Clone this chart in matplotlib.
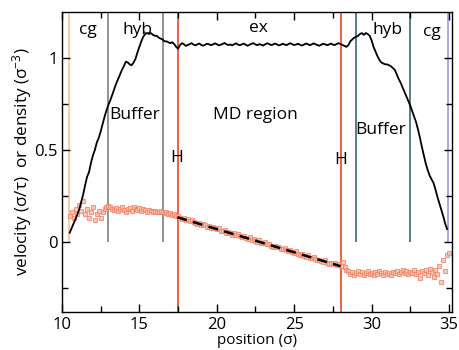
import numpy as np
import matplotlib
matplotlib.use("Agg")
import matplotlib.pyplot as plt

plt.rcParams['font.family'] = ['Open Sans', 'DejaVu Sans']
plt.rcParams['mathtext.fontset'] = 'custom'
plt.rcParams['mathtext.rm'] = 'Open Sans'
plt.rcParams['mathtext.it'] = 'Open Sans'

# density profile (sigma^-3), sampled every 0.125 sigma starting at 10.5
density_start = 10.5
density_step = 0.125
density = [
    0.05, 0.075, 0.10, 0.125, 0.15, 0.18, 0.22, 0.26, 0.31, 0.355, 0.38, 0.43,
    0.47, 0.50, 0.54, 0.565, 0.60, 0.64, 0.68, 0.715, 0.745, 0.77, 0.80, 0.83,
    0.86, 0.885, 0.91, 0.935, 0.955, 0.98, 0.975, 0.965, 0.96, 0.975, 0.995, 1.03,
    1.06, 1.09, 1.115, 1.13, 1.135, 1.13, 1.135, 1.125, 1.12, 1.12, 1.11, 1.105,
    1.10, 1.09, 1.09, 1.085, 1.08, 1.085, 1.075, 1.06, 1.05, 1.07, 1.08, 1.075, 1.065,
    1.07, 1.075, 1.08, 1.072, 1.068, 1.074, 1.078, 1.07, 1.066, 1.072, 1.077, 1.074,
    1.069, 1.073, 1.079, 1.075, 1.068, 1.071, 1.076, 1.081, 1.074, 1.07, 1.073, 1.068,
    1.075, 1.079, 1.072, 1.069, 1.074, 1.078, 1.071, 1.066, 1.072, 1.077, 1.08, 1.073,
    1.069, 1.075, 1.071, 1.067, 1.074, 1.079, 1.076, 1.07, 1.072, 1.078, 1.074, 1.068,
    1.071, 1.077, 1.073, 1.069, 1.075, 1.08, 1.074, 1.07, 1.073, 1.077, 1.071, 1.067,
    1.072, 1.078, 1.075, 1.069, 1.073, 1.079, 1.074, 1.07, 1.066, 1.072, 1.077, 1.074,
    1.069, 1.073, 1.078, 1.072, 1.07, 1.076,
    1.08, 1.075, 1.07, 1.065, 1.06, 1.07, 1.09, 1.10, 1.11, 1.115, 1.12, 1.13,
    1.135, 1.125, 1.135, 1.13, 1.12, 1.095, 1.06, 1.035, 1.01, 0.99, 0.975, 0.97,
    0.965, 0.965, 0.96, 0.955, 0.945, 0.935, 0.91, 0.885, 0.865, 0.84, 0.815, 0.79,
    0.765, 0.74, 0.71, 0.68, 0.65, 0.61, 0.565, 0.515, 0.47, 0.425, 0.39, 0.36,
    0.34, 0.32, 0.285, 0.245, 0.21, 0.175, 0.14, 0.10, 0.07,
]

# velocity profile (sigma/tau), sampled every 0.125 sigma starting at 10.5
velocity_start = 10.5
velocity_step = 0.125
velocity = [
    0.14, 0.16, 0.13, 0.18, 0.15, 0.20, 0.17, 0.22, 0.15, 0.18, 0.13, 0.16,
    0.19, 0.12, 0.15, 0.17, 0.13, 0.16, 0.18, 0.19, 0.195, 0.19, 0.18, 0.175,
    0.185, 0.17, 0.18, 0.19, 0.175, 0.165, 0.18, 0.185, 0.17, 0.19, 0.18, 0.175,
    0.185, 0.17, 0.18, 0.175, 0.165, 0.175, 0.17, 0.16, 0.17, 0.165, 0.16, 0.17,
    0.16, 0.155, 0.16, 0.15, 0.155, 0.145, 0.15, 0.14,
    0.14, 0.13, 0.125, 0.13, 0.118, 0.122, 0.112, 0.118, 0.108, 0.105,
    0.10, 0.104, 0.092, 0.098, 0.09, 0.082, 0.088, 0.078, 0.081, 0.074,
    0.068, 0.074, 0.062, 0.058, 0.066, 0.05, 0.055, 0.046, 0.04, 0.048,
    0.036, 0.042, 0.03, 0.026, 0.034, 0.02, 0.017, 0.025, 0.01, 0.014,
    0.006, 0.0, 0.01, -0.004, -0.008, 0.0, -0.014, -0.01, -0.02, -0.026,
    -0.02, -0.03, -0.028, -0.036, -0.04, -0.034, -0.046, -0.05, -0.044, -0.056,
    -0.058, -0.052, -0.064, -0.07, -0.066, -0.074, -0.08, -0.072, -0.086, -0.09,
    -0.084, -0.092, -0.1, -0.096, -0.104, -0.108, -0.1, -0.112, -0.118, -0.112,
    -0.122, -0.116, -0.128, -0.12, -0.132,
    -0.11, -0.135, -0.15, -0.16, -0.175, -0.165, -0.18, -0.17, -0.16, -0.175,
    -0.165, -0.18, -0.17, -0.16, -0.175, -0.17, -0.18, -0.165, -0.175, -0.16,
    -0.17, -0.18, -0.165, -0.175, -0.17, -0.18, -0.165, -0.17, -0.16, -0.175,
    -0.165, -0.155, -0.17, -0.16, -0.175, -0.165, -0.17, -0.155, -0.175, -0.165,
    -0.195, -0.16, -0.17, -0.15, -0.18, -0.145, -0.165, -0.19, -0.155, -0.175,
    -0.13, -0.22, -0.1, -0.16, -0.07, -0.06,
]

# linear fit through the MD region
fit_x = [17.45, 28.0]
fit_y = [0.134, -0.132]

# region boundaries
boundary_x = [10.45, 13.0, 16.5, 17.5, 28.0, 29.0, 32.5, 34.95]
boundary_color = ['#f8c490', '#7f7f7f', '#7f7f7f', '#f0603c', '#f0603c',
                  '#3d6670', '#3d6670', '#9c9ce0']
boundary_full = [False, False, False, True, True, False, False, False]

labels_top = ['cg', 'hyb', 'ex', 'hyb', 'cg']
labels_top_x = [11.7, 14.85, 22.7, 31.0, 33.9]
labels_top_y = [1.15, 1.15, 1.165, 1.15, 1.14]
labels_mid = ['Buffer', 'MD region', 'Buffer', 'H', 'H']
labels_mid_x = [14.7, 22.5, 30.6, 17.4, 28.0]
labels_mid_y = [0.69, 0.69, 0.61, 0.455, 0.445]

fig = plt.figure(figsize=(4.59, 3.5), dpi=100)
ax = fig.add_axes([0.135, 0.109, 0.850, 0.857])

ymin, ymax = -0.38, 1.25
ax.set_xlim(10, 35.2)
ax.set_ylim(ymin, ymax)

for bx, bc, bf in zip(boundary_x, boundary_color, boundary_full):
    ax.vlines(bx, ymin if bf else 0, ymax, color=bc, lw=1.4 if bf else 1.2, zorder=1)

vx = velocity_start + velocity_step * np.arange(len(velocity))
ax.plot(vx, velocity, linestyle='none', marker='s', markersize=3.4,
        markerfacecolor='#f9c0ad', markeredgecolor='#f3866a', markeredgewidth=0.8,
        alpha=0.8, zorder=2)

ax.plot(fit_x, fit_y, color='black', lw=1.8, dashes=(4, 2.5), zorder=3)

dx = density_start + density_step * np.arange(len(density))
ax.plot(dx, density, color='black', lw=1.3, zorder=3)

for t, x, y in zip(labels_top, labels_top_x, labels_top_y):
    ax.text(x, y, t, ha='center', va='center', fontsize=12.5)
for t, x, y in zip(labels_mid, labels_mid_x, labels_mid_y):
    ax.text(x, y, t, ha='center', va='center', fontsize=12.5)

ax.set_xticks([10, 15, 20, 25, 30, 35])
ax.set_xticks([12.5, 17.5, 22.5, 27.5, 32.5], minor=True)
ax.set_yticks([0, 0.5, 1])
ax.set_yticklabels(['0', '0.5', '1'])
ax.set_yticks([-0.25, 0.25, 0.75], minor=True)
ax.tick_params(which='both', direction='in', top=True, right=True, labelsize=12)
ax.tick_params(axis='y', pad=3)
ax.tick_params(which='major', length=6, width=1)
ax.tick_params(which='minor', length=4, width=1)
for s in ax.spines.values():
    s.set_linewidth(1.0)

ax.set_xlabel('position (σ)', fontsize=11, labelpad=0)
ax.set_ylabel('velocity (σ/τ)  or density (σ$^{-3}$)', fontsize=12.3, labelpad=0)

fig.savefig('out.png', dpi=100)
